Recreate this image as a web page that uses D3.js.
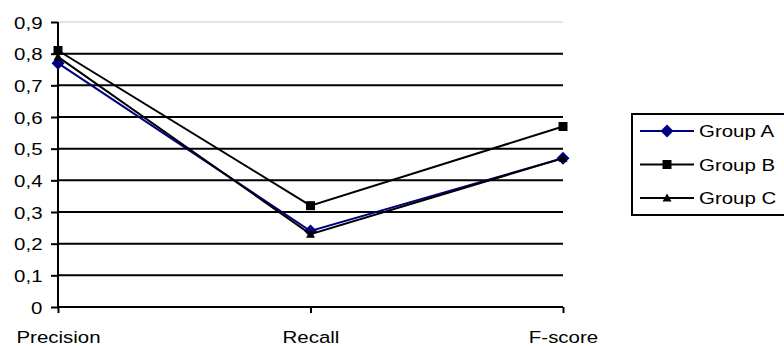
<!DOCTYPE html>
<html><head><meta charset="utf-8">
<script src="https://cdn.jsdelivr.net/npm/d3@7"></script>
<style>body{margin:0;background:#fff}svg{display:block;font-family:Arial,"Liberation Sans",sans-serif}</style>
</head><body><svg id="c" width="784" height="346"></svg>
<script>
const categories = ["Precision", "Recall", "F-score"];
const groupA = [0.77, 0.24, 0.47];
const groupB = [0.81, 0.32, 0.57];
const groupC = [0.79, 0.23, 0.47];
const seriesNames = ["Group A", "Group B", "Group C"];
const yTicks = [0, 0.1, 0.2, 0.3, 0.4, 0.5, 0.6, 0.7, 0.8, 0.9];

const diamond = {draw(ctx, size) { const r = Math.sqrt(size) / 2; ctx.moveTo(0, -r); ctx.lineTo(r, 0); ctx.lineTo(0, r); ctx.lineTo(-r, 0); ctx.closePath(); }};
const square = {draw(ctx, size) { const r = Math.sqrt(size) / 2; ctx.rect(-r, -r, 2 * r, 2 * r); }};
const triangle = {draw(ctx, size) { const r = Math.sqrt(size) / 2; ctx.moveTo(0, -r); ctx.lineTo(r, r * 0.8); ctx.lineTo(-r, r * 0.8); ctx.closePath(); }};

const series = [
  {name: seriesNames[0], values: groupA, color: "#000080", symbol: diamond, size: 169},
  {name: seriesNames[1], values: groupB, color: "#000000", symbol: square, size: 81},
  {name: seriesNames[2], values: groupC, color: "#000000", symbol: triangle, size: 81}
];

const svg = d3.select("#c");
const pL = 58, pR = 563, pT = 22, pB = 307;
const SX = 1.24, FS = 16.5;
const x = d3.scalePoint().domain(categories).range([pL, pR]);
const y = d3.scaleLinear().domain([0, 0.9]).range([pB, pT]);
const fmt = d => d === 0 ? "0" : d3.format(".1f")(d).replace(".", ",");

// gridlines
svg.append("g").selectAll("line").data(yTicks).join("line")
  .attr("x1", pL).attr("x2", pR)
  .attr("y1", d => y(d)).attr("y2", d => y(d))
  .attr("stroke", d => d === 0.9 ? "#c8c8c8" : "#000")
  .attr("stroke-width", d => d === 0.9 ? 1 : 2);

// y axis
const ya = svg.append("g").attr("transform", `translate(${pL},0)`)
  .call(d3.axisLeft(y).tickValues(yTicks).tickFormat(fmt).tickSize(7));
ya.select(".domain").attr("stroke", "#000").attr("stroke-width", 2).attr("d", `M0,${pT}V${pB}`);
ya.selectAll(".tick line").attr("stroke-width", 2);
ya.selectAll("text").attr("font-size", FS).attr("fill", "#000")
  .attr("font-family", "Arial, 'Liberation Sans', sans-serif")
  .attr("x", -15.5 / SX).attr("dy", "6px").attr("transform", `scale(${SX},1)`);

// x axis
const xa = svg.append("g").attr("transform", `translate(0,${pB})`)
  .call(d3.axisBottom(x).tickSize(6));
xa.select(".domain").remove();
xa.selectAll(".tick line").attr("stroke-width", 2);
xa.selectAll("text").attr("font-size", FS).attr("fill", "#000")
  .attr("font-family", "Arial, 'Liberation Sans', sans-serif")
  .attr("y", 36).attr("dy", 0).attr("transform", `scale(${SX},1)`);

// lines and markers
const line = d3.line().x((d, i) => x(categories[i])).y(d => y(d));
series.forEach(s => {
  const g = svg.append("g");
  g.append("path").attr("d", line(s.values)).attr("fill", "none")
    .attr("stroke", s.color).attr("stroke-width", 2);
  g.selectAll("path.m").data(s.values).join("path").attr("class", "m")
    .attr("d", d3.symbol().type(s.symbol).size(s.size))
    .attr("transform", (d, i) => `translate(${x(categories[i])},${y(d)})`)
    .attr("fill", s.color);
});

// legend
const lg = svg.append("g");
lg.append("rect").attr("x", 632).attr("y", 114).attr("width", 160).attr("height", 101)
  .attr("fill", "#fff").attr("stroke", "#000").attr("stroke-width", 2);
series.forEach((s, i) => {
  const cy = 131 + i * 33.5;
  lg.append("line").attr("x1", 640).attr("x2", 694).attr("y1", cy).attr("y2", cy)
    .attr("stroke", s.color).attr("stroke-width", 2);
  lg.append("path").attr("d", d3.symbol().type(s.symbol).size(s.size)())
    .attr("transform", `translate(667,${cy})`).attr("fill", s.color);
  lg.append("g").attr("transform", `translate(699,${cy + 6}) scale(${SX},1)`)
    .append("text").attr("font-size", FS).text(s.name);
});
</script></body></html>
